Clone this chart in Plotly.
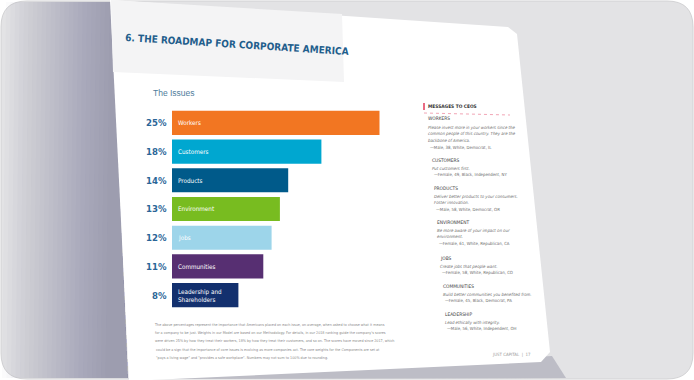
import plotly.graph_objects as go

W, H = 694, 380

# ---------------- data ----------------
issues = ["Workers", "Customers", "Products", "Environment", "Jobs",
          "Communities", "Leadership and<br>Shareholders"]
shares = [25, 18, 14, 13, 12, 11, 8]
bar_colors = ["#f27622", "#00a7d0", "#005a8a", "#78bc20", "#9dd5ea",
              "#572f72", "#13306e"]

title_text = "6. THE ROADMAP FOR CORPORATE AMERICA"
subtitle_text = "The Issues"
panel_header = "MESSAGES TO CEOS"
msg_heads = ["WORKERS", "CUSTOMERS", "PRODUCTS", "ENVIRONMENT", "JOBS",
             "COMMUNITIES", "LEADERSHIP"]
msg_bodies = [
    ["Please invest more in your workers since the",
     "common people of this country. They are the",
     "backbone of America.",
     "\u2014Male, 38, White, Democrat, IL"],
    ["Put customers first.",
     "\u2014Female, 49, Black, Independent, NY"],
    ["Deliver better products to your consumers.",
     "Foster innovation.",
     "\u2014Male, 58, White, Democrat, OR"],
    ["Be more aware of your impact on our",
     "environment.",
     "\u2014Female, 61, White, Republican, CA"],
    ["Create jobs that people want.",
     "\u2014Female, 58, White, Republican, CO"],
    ["Build better communities you benefited from.",
     "\u2014Female, 45, Black, Democrat, PA"],
    ["Lead ethically with integrity.",
     "\u2014Male, 56, White, Independent, OH"],
]
footnote_lines = [
    "The above percentages represent the importance that Americans placed on each issue, on average, when asked to choose what it means",
    "for a company to be just. Weights in our Model are based on our Methodology. For details, in our 2018 ranking guide the company's scores",
    "were driven 25% by how they treat their workers, 18% by how they treat their customers, and so on. The scores have moved since 2017, which",
    "could be a sign that the importance of core issues is evolving as more companies act. The core weights for the Components are set at",
    "\"pays a living wage\" and \"provides a safe workplace\". Numbers may not sum to 100% due to rounding.",
]
footer_text = "JUST CAPITAL  |  17"


def px(x):
    return x / W


def py(y):
    return 1 - y / H


def path(points, close=True):
    s = "M " + " L ".join(f"{px(x):.5f},{py(y):.5f}" for x, y in points)
    return s + (" Z" if close else "")


fig = go.Figure()

fig.add_trace(go.Bar(
    x=shares, y=issues, orientation="h",
    marker=dict(color=bar_colors, line=dict(width=0)),
    width=0.84, hoverinfo="skip", showlegend=False,
))

shapes = []
# outer rounded frame
r = 26
rx, ry = r / W, r / H
x0, y0, x1, y1 = px(1), py(379), px(693), py(1)
shapes.append(dict(
    type="path", xref="paper", yref="paper", layer="below",
    path=(f"M {x0+rx},{y0} L {x1-rx},{y0} Q {x1},{y0} {x1},{y0+ry} "
          f"L {x1},{y1-ry} Q {x1},{y1} {x1-rx},{y1} L {x0+rx},{y1} "
          f"Q {x0},{y1} {x0},{y1-ry} L {x0},{y0+ry} Q {x0},{y0} {x0+rx},{y0} Z"),
    fillcolor="#e3e3e5", line=dict(color="#d2d2d4", width=1)))
# left darkening gradient next to the page (many thin translucent layers)
for i in range(24):
    xl = 2 + i * 4.5
    shapes.append(dict(type="path", xref="paper", yref="paper", layer="below",
                       path=path([(xl + 4, 2), (112, 2), (128, 378), (xl, 378)]),
                       fillcolor="#5c5c70", opacity=0.022, line=dict(width=0)))
# shadow under page bottom
shapes.append(dict(type="path", xref="paper", yref="paper", layer="below",
                   path=path([(130, 379), (552, 356), (566, 378)]),
                   fillcolor="#a4a4b0", opacity=0.6, line=dict(width=0)))
# page
shapes.append(dict(type="path", xref="paper", yref="paper", layer="below",
                   path=path([(110, 0), (508, 27), (517, 34), (550, 352),
                              (541, 362), (129, 381)]),
                   fillcolor="#ffffff", line=dict(width=0)))
# title band
shapes.append(dict(type="path", xref="paper", yref="paper", layer="below",
                   path=path([(111, 0), (342, 14), (344, 82), (113, 72)]),
                   fillcolor="#f4f4f5", line=dict(width=0)))
# messages header marker + underline
shapes.append(dict(type="line", xref="paper", yref="paper",
                   x0=px(424), x1=px(424), y0=py(103), y1=py(110),
                   line=dict(color="#e23a5a", width=1.5)))
shapes.append(dict(type="line", xref="paper", yref="paper",
                   x0=px(424), x1=px(510), y0=py(113), y1=py(115),
                   line=dict(color="#f2a6b6", width=1, dash="dot")))

ann = []
FONT_N = "DejaVu Sans Condensed, Liberation Sans Narrow, sans-serif"
FONT = "Liberation Sans, Arial, sans-serif"

ann.append(dict(text=f"<b>{title_text}</b>", xref="paper", yref="paper",
                x=px(237), y=py(44), xanchor="center", yanchor="middle",
                textangle=3.6, showarrow=False,
                font=dict(family=FONT_N, size=10, color="#1f5e8c")))
ann.append(dict(text=subtitle_text, xref="paper", yref="paper",
                x=px(151), y=py(93), xanchor="left", yanchor="middle",
                showarrow=False, font=dict(family=FONT, size=8.5, color="#4f7d9c")))

for cat, v in zip(issues, shares):
    ann.append(dict(text=f"<b>{v}%</b>", x=0, y=cat, xref="x", yref="y",
                    xanchor="right", yanchor="middle", xshift=-3,
                    showarrow=False,
                    font=dict(family=FONT_N, size=9.5, color="#2a6597")))
    ann.append(dict(text=cat, x=0, y=cat, xref="x", yref="y",
                    xanchor="left", yanchor="middle", xshift=4, align="left",
                    showarrow=False,
                    font=dict(family=FONT_N, size=6.3, color="#ffffff")))

# messages panel
ann.append(dict(text=f"<b>{panel_header}</b>", xref="paper", yref="paper",
                x=px(426), y=py(106.5), xanchor="left", yanchor="middle",
                showarrow=False, font=dict(family=FONT_N, size=4.8, color="#333333")))
head_y = [119, 160, 188, 222, 258, 286, 314]
line_gap = 6.8
for head, body, hy in zip(msg_heads, msg_bodies, head_y):
    xoff = 426 + (hy - 119) * 0.088
    ann.append(dict(text=head, xref="paper", yref="paper", x=px(xoff), y=py(hy),
                    xanchor="left", yanchor="middle", showarrow=False,
                    font=dict(family=FONT_N, size=4.8, color="#3a3a3a")))
    for k, line in enumerate(body):
        is_attr = line.startswith("\u2014")
        ann.append(dict(text=line if is_attr else f"<i>{line}</i>",
                        xref="paper", yref="paper",
                        x=px(xoff + (2 if is_attr else 0)),
                        y=py(hy + 8 + k * line_gap),
                        xanchor="left", yanchor="middle", showarrow=False,
                        font=dict(family=FONT_N, size=4.3, color="#6d6d6d")))

for k, line in enumerate(footnote_lines):
    ann.append(dict(text=line, xref="paper", yref="paper",
                    x=px(152 + k * 0.5), y=py(325 + k * 8.2),
                    xanchor="left", yanchor="middle", showarrow=False,
                    font=dict(family=FONT_N, size=3.7, color="#8a8a8a")))

ann.append(dict(text=footer_text, xref="paper", yref="paper",
                x=px(533), y=py(355), xanchor="right", yanchor="middle",
                showarrow=False, font=dict(family=FONT_N, size=4.4, color="#9a9a9a")))

bar_x0, k_px = 172, 8.3
x_max = 26
fig.update_layout(
    width=W, height=H, margin=dict(l=0, r=0, t=0, b=0),
    paper_bgcolor="#ffffff", plot_bgcolor="rgba(0,0,0,0)",
    shapes=shapes, annotations=ann, bargap=0.16,
    xaxis=dict(domain=[px(bar_x0), px(bar_x0 + k_px * x_max)], range=[0, x_max],
               visible=False, fixedrange=True),
    yaxis=dict(domain=[py(309.5), py(108.5)], autorange="reversed",
               visible=False, fixedrange=True),
    showlegend=False,
)

fig.write_html("out.html",
               config={"displayModeBar": False, "staticPlot": True},
               post_script="document.body.style.margin='0';document.body.style.padding='0';")
